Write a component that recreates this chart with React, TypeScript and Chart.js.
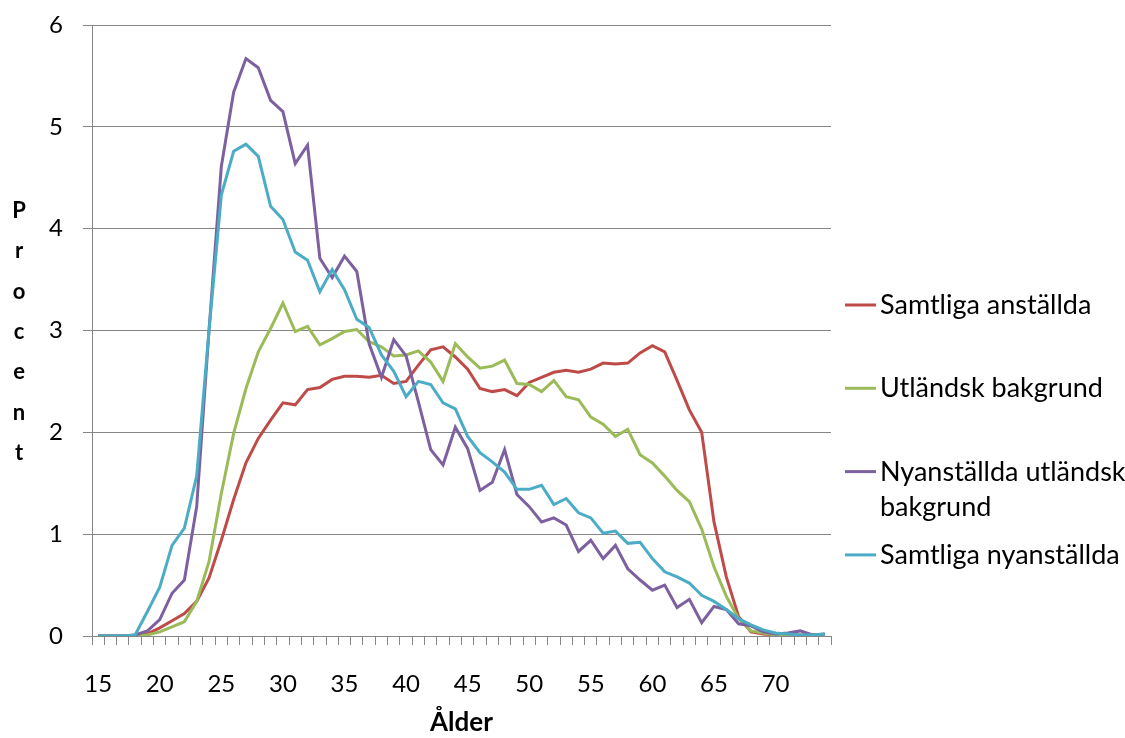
import React, { useEffect, useRef } from "react";
import { Chart, registerables } from "chart.js";

Chart.register(...registerables);

// Ages (categories)
const ages = [
  "15", "16", "17", "18", "19", "20", "21", "22", "23", "24",
  "25", "26", "27", "28", "29", "30", "31", "32", "33", "34",
  "35", "36", "37", "38", "39", "40", "41", "42", "43", "44",
  "45", "46", "47", "48", "49", "50", "51", "52", "53", "54",
  "55", "56", "57", "58", "59", "60", "61", "62", "63", "64",
  "65", "66", "67", "68", "69", "70", "71", "72", "73", "74",
];

const shownAgeLabels = ["15", "20", "25", "30", "35", "40", "45", "50", "55", "60", "65", "70"];

const samtligaAnstallda = [
  0, 0, 0, 0.005, 0.02, 0.08, 0.15, 0.22, 0.34, 0.57,
  0.94, 1.34, 1.70, 1.94, 2.12, 2.29, 2.27, 2.42, 2.44, 2.52,
  2.55, 2.55, 2.54, 2.56, 2.48, 2.50, 2.66, 2.81, 2.84, 2.74,
  2.62, 2.43, 2.40, 2.42, 2.36, 2.49, 2.54, 2.59, 2.61, 2.59,
  2.62, 2.68, 2.67, 2.68, 2.78, 2.85, 2.79, 2.51, 2.22, 2.0,
  1.12, 0.58, 0.19, 0.04, 0.02, 0.01, 0.01, 0.01, 0.01, 0.01,
];

const utlandskBakgrund = [
  0, 0, 0, 0, 0.01, 0.04, 0.09, 0.14, 0.34, 0.73,
  1.40, 1.99, 2.43, 2.79, 3.02, 3.27, 2.99, 3.04, 2.86, 2.92,
  2.99, 3.01, 2.89, 2.84, 2.75, 2.76, 2.80, 2.69, 2.50, 2.87,
  2.74, 2.63, 2.65, 2.71, 2.48, 2.47, 2.40, 2.51, 2.35, 2.32,
  2.15, 2.08, 1.96, 2.03, 1.78, 1.70, 1.57, 1.43, 1.32, 1.05,
  0.68, 0.39, 0.17, 0.05, 0.03, 0.01, 0.01, 0.01, 0.01, 0.01,
];

const nyanstalldaUtlandsk = [
  0, 0, 0, 0.01, 0.05, 0.16, 0.42, 0.55, 1.27, 3.0,
  4.61, 5.34, 5.67, 5.58, 5.26, 5.15, 4.64, 4.82, 3.71, 3.52,
  3.73, 3.58, 2.87, 2.54, 2.91, 2.75, 2.30, 1.83, 1.68, 2.05,
  1.84, 1.43, 1.51, 1.83, 1.39, 1.27, 1.12, 1.16, 1.09, 0.83,
  0.94, 0.76, 0.89, 0.66, 0.55, 0.45, 0.50, 0.28, 0.36, 0.13,
  0.29, 0.26, 0.12, 0.10, 0.04, 0.02, 0.03, 0.05, 0.01, 0.02,
];

const samtligaNyanstallda = [
  0, 0, 0, 0.01, 0.24, 0.48, 0.89, 1.06, 1.57, 3.0,
  4.33, 4.76, 4.83, 4.71, 4.22, 4.09, 3.77, 3.69, 3.38, 3.60,
  3.40, 3.11, 3.03, 2.76, 2.60, 2.35, 2.50, 2.47, 2.29, 2.23,
  1.96, 1.80, 1.71, 1.61, 1.44, 1.44, 1.48, 1.29, 1.35, 1.21,
  1.16, 1.01, 1.03, 0.91, 0.92, 0.76, 0.63, 0.58, 0.52, 0.40,
  0.34, 0.26, 0.17, 0.11, 0.06, 0.03, 0.02, 0.01, 0.01, 0.02,
];

const seriesLabels = [
  "Samtliga anställda",
  "Utländsk bakgrund",
  "Nyanställda utländsk bakgrund",
  "Samtliga nyanställda",
];
const legendLines = [
  ["Samtliga anställda"],
  ["Utländsk bakgrund"],
  ["Nyanställda utländsk", "bakgrund"],
  ["Samtliga nyanställda"],
];
const seriesColors = ["#BE4B48", "#9BBB59", "#7D60A0", "#4BACC6"];
const yTitle = "Procent";
const xTitle = "Ålder";
const yTicks = [0, 1, 2, 3, 4, 5, 6];

const FONT = "Lato";
const AXIS_GREY = "#868686";

const decorPlugin = {
  id: "decor",
  afterDraw(chart: any) {
    const ctx = chart.ctx as CanvasRenderingContext2D;
    const area = chart.chartArea;
    ctx.save();
    ctx.fillStyle = "#000";
    // vertical stacked y title
    ctx.font = `bold 22px ${FONT}`;
    ctx.textAlign = "center";
    ctx.textBaseline = "alphabetic";
    yTitle.split("").forEach((ch, i) => {
      ctx.fillText(ch, 19, 218 + i * 40.3);
    });
    // x title
    ctx.font = `bold 26px ${FONT}`;
    ctx.fillText(xTitle, (area.left + area.right) / 2, 731);
    // legend
    ctx.textAlign = "left";
    ctx.font = `27px ${FONT}`;
    legendLines.forEach((lines, i) => {
      const y = 305 + i * 83.3;
      ctx.strokeStyle = seriesColors[i];
      ctx.lineWidth = 3;
      ctx.beginPath();
      ctx.moveTo(845, y);
      ctx.lineTo(876, y);
      ctx.stroke();
      lines.forEach((t, j) => {
        ctx.fillText(t, 880, y + 9 + j * 35);
      });
    });
    ctx.restore();
  },
};

export default function App() {
  const canvasRef = useRef<HTMLCanvasElement | null>(null);

  useEffect(() => {
    if (!canvasRef.current) return;
    Chart.defaults.font.family = FONT;
    const seriesData = [samtligaAnstallda, utlandskBakgrund, nyanstalldaUtlandsk, samtligaNyanstallda];
    const chart = new Chart(canvasRef.current, {
      type: "line",
      data: {
        labels: ages,
        datasets: seriesData.map((d, i) => ({
          label: seriesLabels[i],
          data: d,
          borderColor: seriesColors[i],
          backgroundColor: seriesColors[i],
          borderWidth: 3,
          pointRadius: 0,
          tension: 0,
          fill: false,
          order: 3 - i,
        })),
      },
      options: {
        animation: false,
        responsive: false,
        maintainAspectRatio: false,
        layout: { padding: { left: 0, top: 25, right: 294, bottom: 0 } },
        plugins: {
          legend: { display: false },
          tooltip: { enabled: false },
          title: { display: false },
        },
        scales: {
          x: {
            type: "category",
            offset: true,
            grid: {
              offset: true,
              drawOnChartArea: false,
              drawTicks: true,
              tickLength: 9,
              color: AXIS_GREY,
            },
            border: { color: AXIS_GREY, width: 1 },
            ticks: {
              autoSkip: false,
              maxRotation: 0,
              minRotation: 0,
              padding: 25,
              color: "#000",
              font: { family: FONT, size: 24 },
              callback: function (this: any, value: any) {
                const lbl = String(this.getLabelForValue(value));
                return shownAgeLabels.includes(lbl) ? lbl : "";
              },
            },
            afterFit: (scale: any) => {
              scale.height = 102;
              scale.paddingLeft = 0;
              scale.paddingRight = 0;
            },
          },
          y: {
            min: yTicks[0],
            max: yTicks[yTicks.length - 1],
            ticks: {
              stepSize: 1,
              padding: 20,
              color: "#000",
              font: { family: FONT, size: 24 },
            },
            grid: {
              color: AXIS_GREY,
              lineWidth: 1,
              tickLength: 9,
              drawTicks: true,
            },
            border: { color: AXIS_GREY, width: 1 },
            afterFit: (scale: any) => {
              scale.width = 92;
              scale.paddingTop = 0;
              scale.paddingBottom = 0;
            },
          },
        },
      },
      plugins: [decorPlugin],
    });
    return () => chart.destroy();
  }, []);

  return (
    <div style={{ position: "fixed", left: 0, top: 0, width: 1125, height: 738, background: "#fff" }}>
      <canvas ref={canvasRef} width={1125} height={738} style={{ width: 1125, height: 738, display: "block" }} />
    </div>
  );
}
